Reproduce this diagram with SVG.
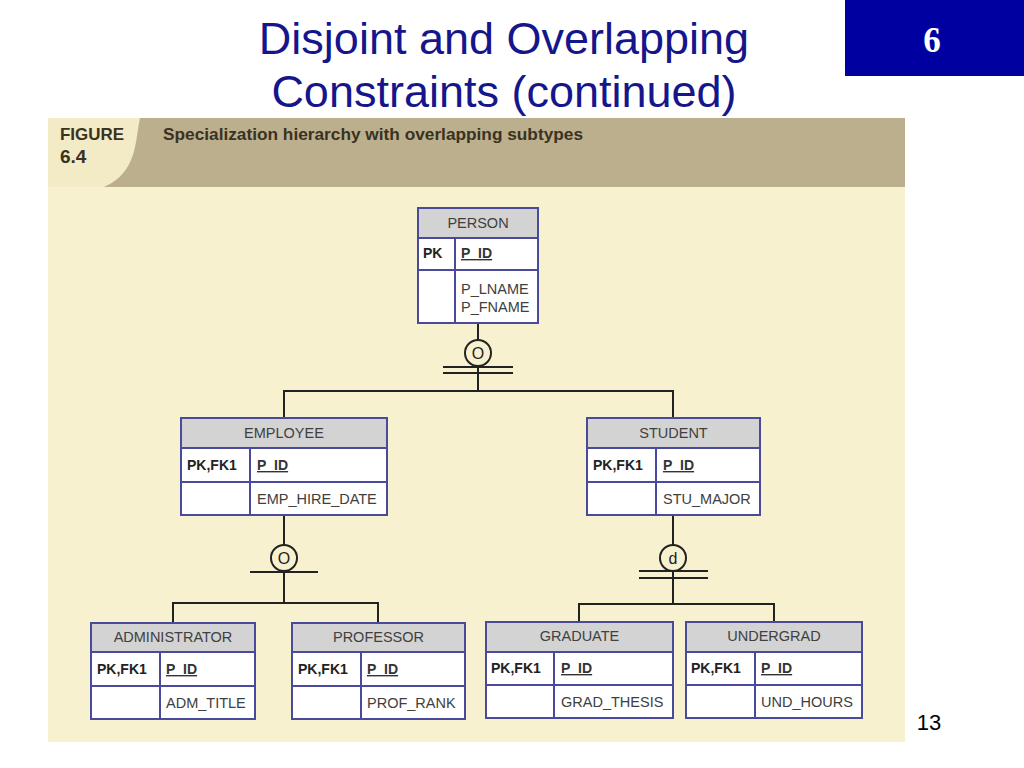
<svg xmlns="http://www.w3.org/2000/svg" width="1024" height="768" viewBox="0 0 1024 768">
<style>
.box{fill:#ffffff;stroke:#4a4a9c;stroke-width:2}
.hdr{fill:#d3d3d3}
.ln{stroke:#4a4a9c;stroke-width:2;fill:none}
.ht{font-family:"Liberation Sans",Arial,sans-serif;font-size:14.5px;fill:#404040;text-anchor:middle}
.pk{font-family:"Liberation Sans",Arial,sans-serif;font-size:14px;font-weight:bold;fill:#222222}
.id{font-family:"Liberation Sans",Arial,sans-serif;font-size:14px;font-weight:bold;fill:#333333;text-decoration:underline}
.at{font-family:"Liberation Sans",Arial,sans-serif;font-size:14.5px;fill:#404040}
.cn{stroke:#222222;stroke-width:2;fill:none}
.cc{stroke:#222222;stroke-width:2;fill:#f8f1cf}
.sym{font-family:"Liberation Sans",Arial,sans-serif;font-size:16px;fill:#222222;text-anchor:middle}
.title{font-family:"Liberation Sans",Arial,sans-serif;font-size:45px;fill:#16168c;text-anchor:middle}
.fig{font-family:"Liberation Sans",Arial,sans-serif;font-weight:bold;fill:#3a3222}
</style>
<rect x="0" y="0" width="1024" height="768" fill="#ffffff"/>
<text class="title" x="504" y="54">Disjoint and Overlapping</text>
<text class="title" x="504" y="107">Constraints (continued)</text>
<rect x="845" y="0" width="179" height="76" fill="#0000a0"/>
<text x="932" y="52" font-family="Liberation Serif,Times New Roman,serif" font-size="35" font-weight="bold" fill="#ffffff" text-anchor="middle">6</text>
<text x="929" y="730" font-family="Liberation Sans,Arial,sans-serif" font-size="22" fill="#000000" text-anchor="middle">13</text>
<rect x="48" y="118" width="857" height="624" fill="#f8f1cf"/>
<rect x="48" y="118" width="857" height="69" fill="#bbaf8d"/>
<path d="M48,118 L140,118 C135,140 138,172 104,187 L48,187 Z" fill="#f3ebc6"/>
<text class="fig" x="60" y="140" font-size="16.5" textLength="64" lengthAdjust="spacingAndGlyphs">FIGURE</text>
<text class="fig" x="60" y="163" font-size="19">6.4</text>
<text class="fig" x="163" y="140" font-size="16.5" textLength="420" lengthAdjust="spacingAndGlyphs">Specialization hierarchy with overlapping subtypes</text>

<g id="connectors">
<line class="cn" x1="478" y1="323" x2="478" y2="340"/>
<line class="cn" x1="443" y1="367" x2="513" y2="367"/>
<line class="cn" x1="443" y1="373" x2="513" y2="373"/>
<line class="cn" x1="478" y1="366" x2="478" y2="391"/>
<polyline class="cn" points="284,418 284,391 673,391 673,418"/>
<circle class="cc" cx="478" cy="353" r="13"/>
<text class="sym" x="478" y="359">O</text>

<line class="cn" x1="284" y1="515" x2="284" y2="545"/>
<line class="cn" x1="250" y1="572" x2="318" y2="572"/>
<line class="cn" x1="284" y1="571" x2="284" y2="603"/>
<polyline class="cn" points="173,623 173,603 378,603 378,623"/>
<circle class="cc" cx="284" cy="558" r="13"/>
<text class="sym" x="284" y="564">O</text>

<line class="cn" x1="673" y1="515" x2="673" y2="545"/>
<line class="cn" x1="639" y1="571" x2="708" y2="571"/>
<line class="cn" x1="639" y1="578" x2="708" y2="578"/>
<line class="cn" x1="673" y1="571" x2="673" y2="604"/>
<polyline class="cn" points="579,622 579,604 774,604 774,622"/>
<circle class="cc" cx="673" cy="558" r="13"/>
<text class="sym" x="673" y="564">d</text>
</g>

<g id="person">
<rect class="box" x="418" y="208" width="120" height="115"/>
<rect class="hdr" x="419" y="209" width="118" height="29"/>
<line class="ln" x1="418" y1="238" x2="538" y2="238"/>
<line class="ln" x1="418" y1="270" x2="538" y2="270"/>
<line class="ln" x1="455" y1="238" x2="455" y2="323"/>
<text class="ht" x="478" y="228">PERSON</text>
<text class="pk" x="423" y="258">PK</text>
<text class="id" x="461" y="258">P_ID</text>
<text class="at" x="461" y="294">P_LNAME</text>
<text class="at" x="461" y="312">P_FNAME</text>
</g>

<g id="employee">
<rect class="box" x="181" y="418" width="206" height="97"/>
<rect class="hdr" x="182" y="419" width="204" height="29"/>
<line class="ln" x1="181" y1="448" x2="387" y2="448"/>
<line class="ln" x1="181" y1="482" x2="387" y2="482"/>
<line class="ln" x1="250" y1="448" x2="250" y2="515"/>
<text class="ht" x="284" y="438">EMPLOYEE</text>
<text class="pk" x="187" y="470">PK,FK1</text>
<text class="id" x="257" y="470">P_ID</text>
<text class="at" x="257" y="504">EMP_HIRE_DATE</text>
</g>

<g id="student">
<rect class="box" x="587" y="418" width="173" height="97"/>
<rect class="hdr" x="588" y="419" width="171" height="29"/>
<line class="ln" x1="587" y1="448" x2="760" y2="448"/>
<line class="ln" x1="587" y1="482" x2="760" y2="482"/>
<line class="ln" x1="656" y1="448" x2="656" y2="515"/>
<text class="ht" x="673.5" y="438">STUDENT</text>
<text class="pk" x="593" y="470">PK,FK1</text>
<text class="id" x="663" y="470">P_ID</text>
<text class="at" x="663" y="504">STU_MAJOR</text>
</g>

<g id="administrator">
<rect class="box" x="91" y="623" width="164" height="96"/>
<rect class="hdr" x="92" y="624" width="162" height="28"/>
<line class="ln" x1="91" y1="652" x2="255" y2="652"/>
<line class="ln" x1="91" y1="686" x2="255" y2="686"/>
<line class="ln" x1="160" y1="652" x2="160" y2="719"/>
<text class="ht" x="173" y="642">ADMINISTRATOR</text>
<text class="pk" x="97" y="674">PK,FK1</text>
<text class="id" x="166" y="674">P_ID</text>
<text class="at" x="166" y="708">ADM_TITLE</text>
</g>

<g id="professor">
<rect class="box" x="292" y="623" width="173" height="96"/>
<rect class="hdr" x="293" y="624" width="171" height="28"/>
<line class="ln" x1="292" y1="652" x2="465" y2="652"/>
<line class="ln" x1="292" y1="686" x2="465" y2="686"/>
<line class="ln" x1="361" y1="652" x2="361" y2="719"/>
<text class="ht" x="378.5" y="642">PROFESSOR</text>
<text class="pk" x="298" y="674">PK,FK1</text>
<text class="id" x="367" y="674">P_ID</text>
<text class="at" x="367" y="708">PROF_RANK</text>
</g>

<g id="graduate">
<rect class="box" x="486" y="622" width="187" height="96"/>
<rect class="hdr" x="487" y="623" width="185" height="29"/>
<line class="ln" x1="486" y1="652" x2="673" y2="652"/>
<line class="ln" x1="486" y1="685" x2="673" y2="685"/>
<line class="ln" x1="554" y1="652" x2="554" y2="718"/>
<text class="ht" x="579.5" y="641">GRADUATE</text>
<text class="pk" x="491" y="673">PK,FK1</text>
<text class="id" x="561" y="673">P_ID</text>
<text class="at" x="561" y="707">GRAD_THESIS</text>
</g>

<g id="undergrad">
<rect class="box" x="686" y="622" width="176" height="96"/>
<rect class="hdr" x="687" y="623" width="174" height="29"/>
<line class="ln" x1="686" y1="652" x2="862" y2="652"/>
<line class="ln" x1="686" y1="685" x2="862" y2="685"/>
<line class="ln" x1="755" y1="652" x2="755" y2="718"/>
<text class="ht" x="774" y="641">UNDERGRAD</text>
<text class="pk" x="691" y="673">PK,FK1</text>
<text class="id" x="761" y="673">P_ID</text>
<text class="at" x="761" y="707">UND_HOURS</text>
</g>
</svg>
